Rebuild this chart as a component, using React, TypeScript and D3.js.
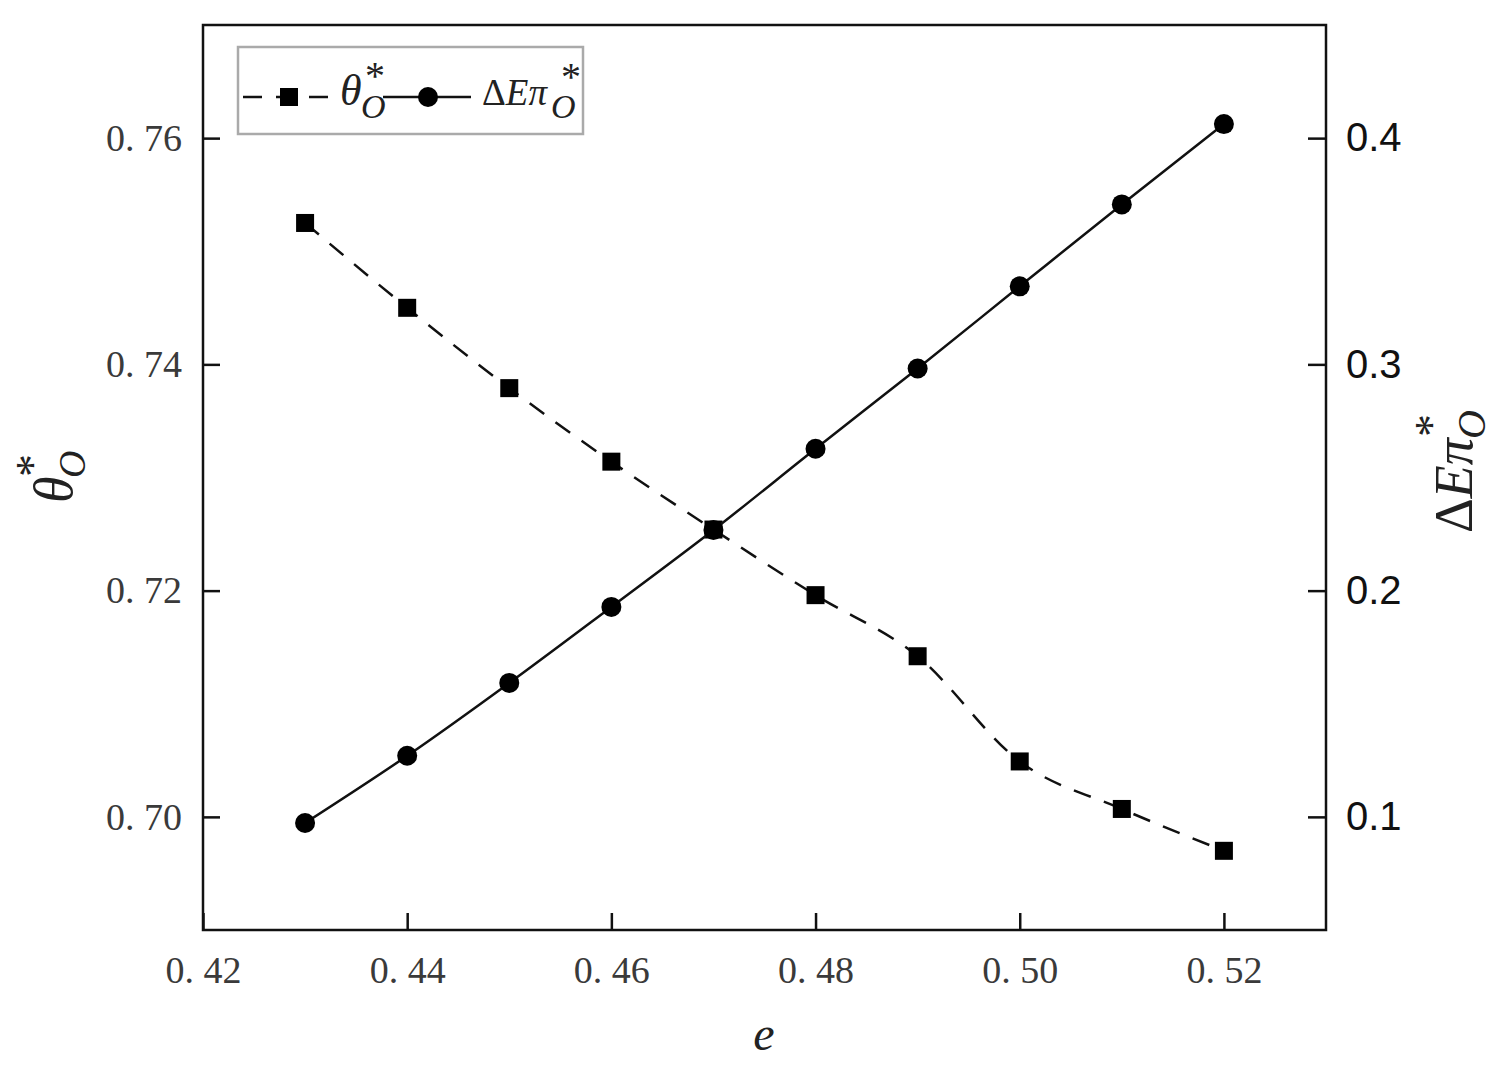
import React, { useEffect, useRef } from 'react';
import * as d3 from 'd3';

// e values
const eValues = [0.43, 0.44, 0.45, 0.46, 0.47, 0.48, 0.49, 0.5, 0.51, 0.52];
// theta_O* (left axis)
const thetaValues = [0.7525, 0.745, 0.7379, 0.7314, 0.7254, 0.7196, 0.7142, 0.7049, 0.7007, 0.697];
// Delta E pi_O* (right axis)
const deltaValues = [0.0973, 0.127, 0.1592, 0.1928, 0.2268, 0.2627, 0.2982, 0.3345, 0.3707, 0.4062];

const xTicks = [0.42, 0.44, 0.46, 0.48, 0.5, 0.52];
const leftTicks = [0.7, 0.72, 0.74, 0.76];
const rightTicks = [0.1, 0.2, 0.3, 0.4];

const fmt2 = (v: number) => v.toFixed(2).replace('.', '. ');
const fmt1 = (v: number) => v.toFixed(1);

function App() {
  const ref = useRef<SVGSVGElement>(null);

  useEffect(() => {
    const width = 1495;
    const height = 1066;
    const margin = { top: 25, right: 169, bottom: 136, left: 203 };
    const serif = '"Liberation Serif", "DejaVu Serif", serif';
    const sans = '"Liberation Sans", Arial, sans-serif';

    const svg = d3.select(ref.current);
    svg.selectAll('*').remove();

    const x = d3.scaleLinear().domain([0.42, 0.53]).range([margin.left, width - margin.right]);
    const yL = d3.scaleLinear().domain([0.69, 0.77]).range([height - margin.bottom, margin.top]);
    const yR = d3.scaleLinear().domain([0.05, 0.45]).range([height - margin.bottom, margin.top]);

    const x0 = margin.left, x1 = width - margin.right;
    const y0 = height - margin.bottom, y1 = margin.top;

    // frame
    svg.append('rect')
      .attr('x', x0).attr('y', y1)
      .attr('width', x1 - x0).attr('height', y0 - y1)
      .attr('fill', 'none').attr('stroke', '#111').attr('stroke-width', 2.5);

    // axes, ticks pointing inward
    const xa = svg.append('g').attr('transform', `translate(0,${y0})`)
      .call(d3.axisBottom(x).tickValues(xTicks).tickSizeInner(-17).tickSizeOuter(0).tickPadding(26).tickFormat(d => fmt2(+d)));
    xa.select('.domain').remove();

    const la = svg.append('g').attr('transform', `translate(${x0},0)`)
      .call(d3.axisLeft(yL).tickValues(leftTicks).tickSizeInner(-17).tickSizeOuter(0).tickPadding(21).tickFormat(d => fmt2(+d)));
    la.select('.domain').remove();

    const ra = svg.append('g').attr('transform', `translate(${x1},0)`)
      .call(d3.axisRight(yR).tickValues(rightTicks).tickSizeInner(-18).tickSizeOuter(0).tickPadding(20).tickFormat(d => fmt1(+d)));
    ra.select('.domain').remove();

    svg.selectAll('.tick line').attr('stroke', '#111').attr('stroke-width', 2.5);
    xa.selectAll('.tick text').attr('font-family', serif).attr('font-size', 38).attr('fill', '#3a3a3a');
    la.selectAll('.tick text').attr('font-family', serif).attr('font-size', 38).attr('fill', '#3a3a3a');
    ra.selectAll('.tick text').attr('font-family', sans).attr('font-size', 40).attr('fill', '#111');

    // theta line (dashed)
    const lineL = d3.line<number>()
      .x((_, i) => x(eValues[i]))
      .y(d => yL(d))
      .curve(d3.curveMonotoneX);
    svg.append('path')
      .datum(thetaValues)
      .attr('d', lineL)
      .attr('fill', 'none').attr('stroke', '#111').attr('stroke-width', 2.5)
      .attr('stroke-dasharray', '18,14');

    svg.append('g').selectAll('rect')
      .data(thetaValues)
      .join('rect')
      .attr('x', (_, i) => x(eValues[i]) - 9)
      .attr('y', d => yL(d) - 9)
      .attr('width', 18).attr('height', 18)
      .attr('fill', '#000');

    // delta line (solid)
    const lineR = d3.line<number>()
      .x((_, i) => x(eValues[i]))
      .y(d => yR(d))
      .curve(d3.curveMonotoneX);
    svg.append('path')
      .datum(deltaValues)
      .attr('d', lineR)
      .attr('fill', 'none').attr('stroke', '#111').attr('stroke-width', 2.5);

    svg.append('g').selectAll('circle')
      .data(deltaValues)
      .join('circle')
      .attr('cx', (_, i) => x(eValues[i]))
      .attr('cy', d => yR(d))
      .attr('r', 10)
      .attr('fill', '#000');

    // legend
    const lg = svg.append('g').attr('font-family', serif).attr('fill', '#222');
    lg.append('rect').attr('x', 238).attr('y', 47).attr('width', 345).attr('height', 87)
      .attr('fill', 'white').attr('stroke', '#aaa').attr('stroke-width', 2.5);
    lg.append('line').attr('x1', 243).attr('x2', 332).attr('y1', 97).attr('y2', 97)
      .attr('stroke', '#111').attr('stroke-width', 2.5).attr('stroke-dasharray', '19,14');
    lg.append('rect').attr('x', 280).attr('y', 88).attr('width', 18).attr('height', 18).attr('fill', '#000');
    const t1 = lg.append('text').attr('font-style', 'italic');
    t1.append('tspan').attr('x', 340).attr('y', 105).attr('font-size', 44).text('θ');
    t1.append('tspan').attr('x', 361).attr('y', 118).attr('font-size', 34).text('O');
    t1.append('tspan').attr('x', 365).attr('y', 89).attr('font-size', 40).attr('font-style', 'normal').text('*');

    lg.append('line').attr('x1', 383).attr('x2', 471).attr('y1', 97).attr('y2', 97)
      .attr('stroke', '#111').attr('stroke-width', 2.5);
    lg.append('circle').attr('cx', 428).attr('cy', 97).attr('r', 10).attr('fill', '#000');
    const t2 = lg.append('text').attr('font-size', 37);
    t2.append('tspan').attr('x', 482).attr('y', 105).text('Δ');
    t2.append('tspan').attr('font-style', 'italic').text('Eπ');
    t2.append('tspan').attr('x', 551).attr('y', 118).attr('font-size', 34).attr('font-style', 'italic').text('O');
    t2.append('tspan').attr('x', 561).attr('y', 90).attr('font-size', 40).text('*');

    // x axis title
    svg.append('text').attr('x', 764).attr('y', 1050).attr('text-anchor', 'middle')
      .attr('font-family', serif).attr('font-size', 48).attr('font-style', 'italic').attr('fill', '#222')
      .text('e');

    // left axis title (rotated)
    const tl = svg.append('text').attr('transform', 'translate(72,503) rotate(-90)')
      .attr('font-family', serif).attr('fill', '#222').attr('font-style', 'italic');
    tl.append('tspan').attr('x', 0).attr('y', 0).attr('font-size', 54).text('θ');
    tl.append('tspan').attr('x', 25).attr('y', 13).attr('font-size', 38).text('O');
    tl.append('tspan').attr('x', 26).attr('y', -24).attr('font-size', 46).attr('font-style', 'normal').text('*');

    // right axis title (rotated)
    const tr = svg.append('text').attr('transform', 'translate(1472,533) rotate(-90)')
      .attr('font-family', serif).attr('fill', '#222');
    tr.append('tspan').attr('x', 0).attr('y', 0).attr('font-size', 54).text('Δ');
    tr.append('tspan').attr('font-size', 54).attr('font-style', 'italic').text('Eπ');
    tr.append('tspan').attr('x', 94).attr('y', 13).attr('font-size', 40).attr('font-style', 'italic').text('O');
    tr.append('tspan').attr('x', 96).attr('y', -25).attr('font-size', 46).text('*');
  }, []);

  return (
    <svg ref={ref} width={1495} height={1066} style={{ display: 'block', position: 'absolute', left: 0, top: 0 }}></svg>
  );
}

export default App;
